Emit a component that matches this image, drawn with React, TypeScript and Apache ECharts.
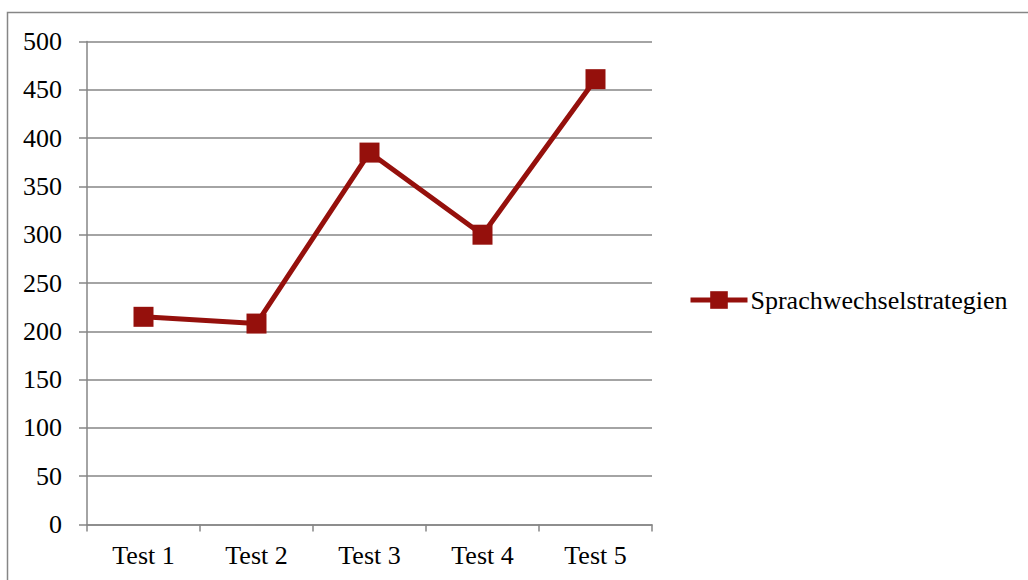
import React, { useEffect, useRef } from "react";
import * as echarts from "echarts";

const categories = ["Test 1", "Test 2", "Test 3", "Test 4", "Test 5"];
const seriesName = "Sprachwechselstrategien";
const values = [215, 208, 385, 300, 461];
const yMin = 0;
const yMax = 500;
const yInterval = 50;

const FONT = "'Liberation Serif', 'Times New Roman', serif";
const GREY = "#868686";
const RED = "#95100c";

export default function App() {
  const ref = useRef<HTMLDivElement>(null);
  useEffect(() => {
    if (!ref.current) return;
    const chart = echarts.init(ref.current, undefined, { renderer: "svg" });
    chart.setOption({
      animation: false,
      backgroundColor: "#ffffff",
      graphic: [
        {
          type: "rect",
          shape: { x: 7.5, y: 12.5, width: 1100, height: 700 },
          style: { fill: "none", stroke: GREY, lineWidth: 1.5 },
          silent: true,
        },
      ],
      grid: { left: 87, top: 41.5, right: 376, bottom: 55.5, containLabel: false },
      legend: {
        left: 683,
        top: 282,
        itemWidth: 57,
        itemHeight: 22,
        itemGap: 0,
        textStyle: { fontFamily: FONT, fontSize: 26, color: "#000", padding: [0, 0, 0, -2] },
        lineStyle: { width: 5 },
        data: [seriesName],
      },
      xAxis: {
        type: "category",
        data: categories,
        boundaryGap: true,
        axisLine: { show: true, lineStyle: { color: GREY, width: 1.5 } },
        axisTick: { show: true, length: 7, lineStyle: { color: GREY, width: 1.5 } },
        axisLabel: { fontFamily: FONT, fontSize: 26, color: "#000", margin: 18 },
        splitLine: { show: false },
      },
      yAxis: {
        type: "value",
        min: yMin,
        max: yMax,
        interval: yInterval,
        axisLine: { show: true, lineStyle: { color: GREY, width: 1.5 } },
        axisTick: { show: true, length: 8, lineStyle: { color: GREY, width: 1.5 } },
        axisLabel: { fontFamily: FONT, fontSize: 26, color: "#000", margin: 25 },
        splitLine: { show: true, lineStyle: { color: GREY, width: 1.5 } },
      },
      series: [
        {
          name: seriesName,
          type: "line",
          data: values,
          symbol: "rect",
          symbolSize: 20,
          showSymbol: true,
          lineStyle: { color: RED, width: 5 },
          itemStyle: { color: RED },
        },
      ],
    });
    return () => chart.dispose();
  }, []);
  return (
    <div
      ref={ref}
      style={{ position: "absolute", left: 0, top: 0, width: 1028, height: 580 }}
    />
  );
}
